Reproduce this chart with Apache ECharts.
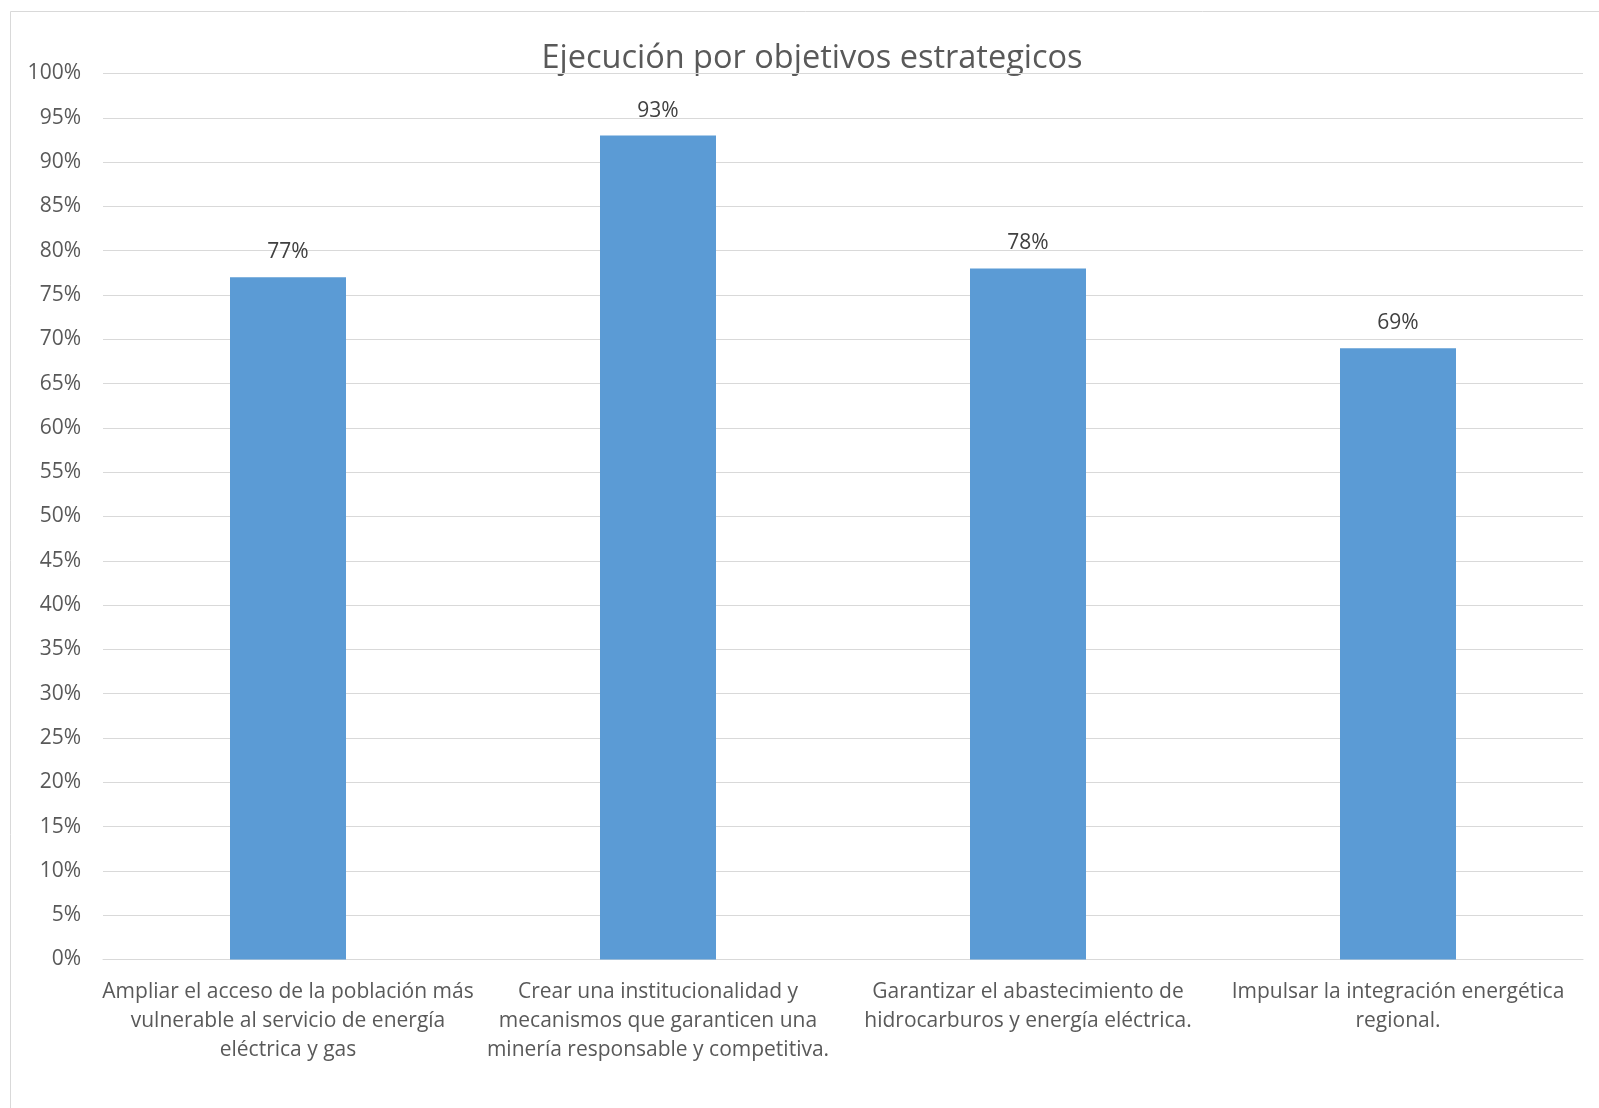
<!DOCTYPE html>
<html>
<head>
<meta charset="utf-8">
<script src="https://cdn.jsdelivr.net/npm/echarts@6/dist/echarts.min.js"></script>
<style>
html,body{margin:0;padding:0;background:#fff;}
#chart{width:1599px;height:1108px;}
</style>
</head>
<body>
<div id="chart"></div>
<script>
const titleText = 'Ejecución por objetivos estrategicos';
const categories = [
  'Ampliar el acceso de la población más\nvulnerable al servicio de energía\neléctrica y gas',
  'Crear una institucionalidad y\nmecanismos que garanticen una\nminería responsable y competitiva.',
  'Garantizar el abastecimiento de\nhidrocarburos y energía eléctrica.',
  'Impulsar la integración energética\nregional.'
];
const values = [77, 93, 78, 69];
const yMin = 0, yMax = 100, yStep = 5;

const FONT = '"Open Sans", sans-serif';
const chart = echarts.init(document.getElementById('chart'), null, {renderer: 'canvas'});
chart.setOption({
  backgroundColor: '#ffffff',
  animation: false,
  graphic: [{
    type: 'rect',
    shape: {x: 10.5, y: 11.5, width: 1700, height: 1200},
    style: {fill: 'none', stroke: '#d9d9d9', lineWidth: 1},
    silent: true
  }, {
    type: 'text',
    x: 812, y: 59,
    style: {
      text: titleText,
      fill: '#595959',
      font: '32.5px ' + FONT,
      textAlign: 'center',
      textVerticalAlign: 'middle'
    }
  }],
  grid: {left: 103, right: 16, top: 73.5, bottom: 148.5, containLabel: false},
  xAxis: {
    type: 'category',
    data: categories,
    axisLine: {show: true, lineStyle: {color: '#d9d9d9', width: 1}},
    axisTick: {show: false},
    axisLabel: {
      color: '#595959',
      fontFamily: FONT,
      fontSize: 21,
      lineHeight: 29,
      margin: 18,
      interval: 0,
      align: 'center'
    }
  },
  yAxis: {
    type: 'value',
    min: yMin, max: yMax, interval: yStep,
    axisLine: {show: false},
    axisTick: {show: false},
    splitLine: {lineStyle: {color: '#d9d9d9', width: 1}},
    axisLabel: {
      color: '#595959',
      fontFamily: FONT,
      fontSize: 21,
      margin: 22,
      formatter: v => v + '%'
    }
  },
  series: [{
    type: 'bar',
    data: values,
    barWidth: 116,
    itemStyle: {color: '#5B9BD5'},
    label: {
      show: true,
      position: 'top',
      distance: 12,
      color: '#404040',
      fontFamily: FONT,
      fontSize: 21,
      lineHeight: 26,
      formatter: p => p.value + '%'
    }
  }]
});
</script>
</body>
</html>
